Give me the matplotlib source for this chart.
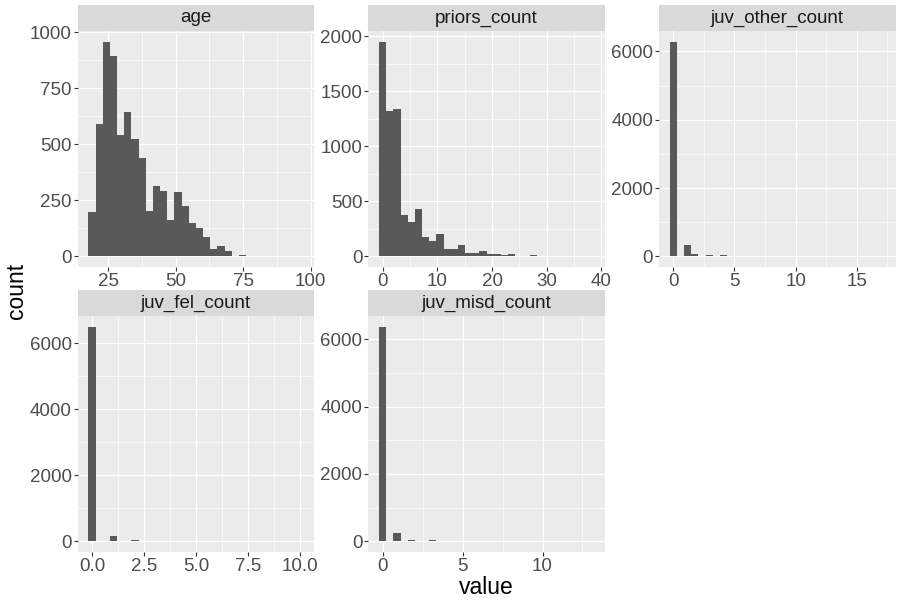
import matplotlib.pyplot as plt
from matplotlib.ticker import MultipleLocator, AutoMinorLocator, FormatStrFormatter
import numpy as np

plt.rcParams['font.family'] = ['Liberation Sans', 'DejaVu Sans']

# histogram counts, 30 bins per variable (ggplot default)
age_range = (19, 96)
age_counts = [199, 592, 958, 896, 543, 646, 522, 437, 204, 312,
              293, 164, 289, 226, 150, 128, 88, 34, 48, 25,
              3, 7, 3, 0, 3, 0, 0, 0, 0, 1]

priors_range = (0, 38)
priors_counts = [1951, 1324, 1339, 379, 315, 430, 179, 142, 206, 70,
                 70, 106, 33, 33, 52, 24, 21, 15, 24, 6,
                 6, 12, 3, 1, 0, 1, 0, 0, 0, 1]

juv_other_range = (0, 17)
juv_other_counts = [6285, 0, 342, 68, 0, 38, 0, 34, 0, 3,
                    1, 0, 0, 0, 0, 0, 0, 0, 0, 0,
                    0, 0, 0, 0, 0, 0, 0, 0, 0, 1]

juv_fel_range = (0, 10)
juv_fel_counts = [6493, 0, 0, 172, 0, 0, 28, 0, 0, 5,
                  0, 0, 2, 0, 0, 0, 0, 0, 0, 0,
                  0, 0, 0, 0, 0, 0, 0, 0, 0, 1]

juv_misd_range = (0, 13)
juv_misd_counts = [6378, 0, 259, 0, 50, 0, 0, 34, 0, 5,
                   0, 2, 0, 1, 0, 0, 0, 0, 0, 0,
                   0, 0, 0, 0, 0, 0, 0, 0, 0, 1]

# name, range, counts, x major step, y major step, x label format
panels = [
    ('age', age_range, age_counts, 25, 250, '%d'),
    ('priors_count', priors_range, priors_counts, 10, 500, '%d'),
    ('juv_other_count', juv_other_range, juv_other_counts, 5, 2000, '%d'),
    ('juv_fel_count', juv_fel_range, juv_fel_counts, 2.5, 2000, '%.1f'),
    ('juv_misd_count', juv_misd_range, juv_misd_counts, 5, 2000, '%d'),
]

W, H = 900, 600
fig = plt.figure(figsize=(9, 6), dpi=100)

col_left = [77.7, 368.3, 659.0]
row_top = [31.0, 316.0]
pw, ph = 236.5, 236.0
strip_h = 26.0

for i, (name, rng, counts, xstep, ystep, xfmt) in enumerate(panels):
    r, c = divmod(i, 3)
    x0 = col_left[c] / W
    y0 = (H - row_top[r] - ph) / H
    ax = fig.add_axes([x0, y0, pw / W, ph / H])

    nb = len(counts)
    bw = (rng[1] - rng[0]) / (nb - 1)
    edges = np.linspace(rng[0] - bw / 2, rng[1] + bw / 2, nb + 1)
    centers = (edges[:-1] + edges[1:]) / 2
    ax.hist(centers, bins=edges, weights=counts, color='#595959', zorder=3)

    span = edges[-1] - edges[0]
    ax.set_xlim(edges[0] - 0.05 * span, edges[-1] + 0.05 * span)
    ymax = max(counts)
    ax.set_ylim(-0.05 * ymax, 1.05 * ymax)

    ax.set_facecolor('#EBEBEB')
    for s in ax.spines.values():
        s.set_visible(False)
    ax.xaxis.set_major_locator(MultipleLocator(xstep))
    ax.yaxis.set_major_locator(MultipleLocator(ystep))
    ax.xaxis.set_minor_locator(AutoMinorLocator(2))
    ax.yaxis.set_minor_locator(AutoMinorLocator(2))
    ax.xaxis.set_major_formatter(FormatStrFormatter(xfmt))
    ax.grid(which='major', color='white', linewidth=0.9, zorder=0)
    ax.grid(which='minor', color='white', linewidth=0.45, zorder=0)
    ax.set_axisbelow(True)
    ax.tick_params(which='major', length=2.7, width=0.8, color='#333333',
                   labelsize=13.5, labelcolor='#4D4D4D', pad=1.5)
    ax.tick_params(which='minor', length=0)

    # facet strip
    sax = fig.add_axes([x0, y0 + ph / H, pw / W, strip_h / H])
    sax.set_facecolor('#D9D9D9')
    sax.set_xticks([])
    sax.set_yticks([])
    for s in sax.spines.values():
        s.set_visible(False)
    sax.text(0.5, 0.5, name, ha='center', va='center', fontsize=13.5,
             color='#1A1A1A', transform=sax.transAxes)

fig.text(486 / W, 1 - 587 / H, 'value', ha='center', va='center', fontsize=16.5)
fig.text(16 / W, 1 - 291 / H, 'count', ha='center', va='center', fontsize=16.5,
         rotation=90)

fig.savefig('out.png', dpi=100)
